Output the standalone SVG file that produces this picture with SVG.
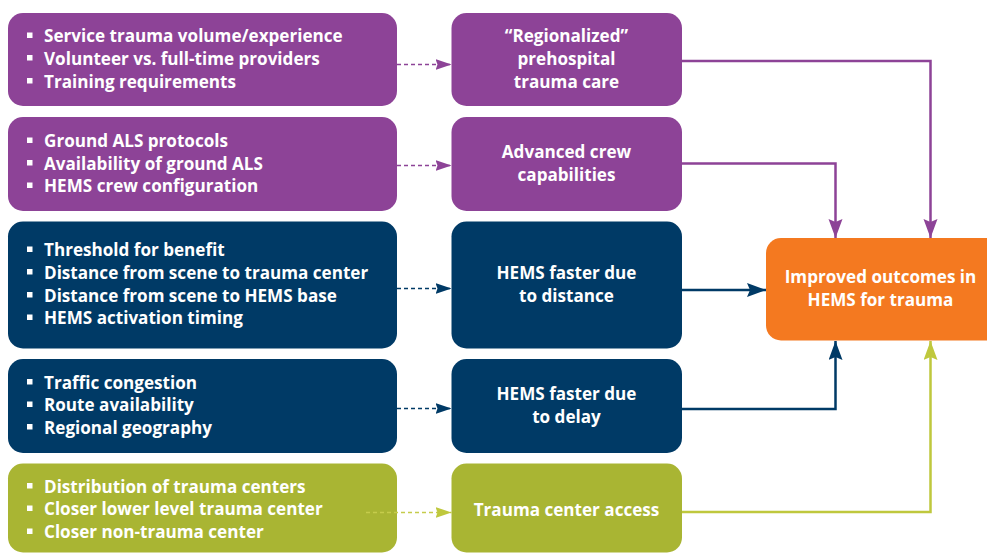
<svg xmlns="http://www.w3.org/2000/svg" width="987" height="554" viewBox="0 0 987 554">
  <style>
    .box { stroke: none; }
    .purple { fill: #8D4397; }
    .navy { fill: #003A66; }
    .green { fill: #A9B533; }
    .orange { fill: #F47920; }
    text { font-family: "Open Sans", Lato, "Liberation Sans", sans-serif; font-weight: 700; font-size: 17.1px; fill: #FFFFFF; }
    .mid { text-anchor: middle; }
    .bullet { fill: #FFFFFF; }
    .dash { fill: none; stroke-width: 1.6; stroke-dasharray: 4 3; }
    .solid { fill: none; stroke-width: 2.5; }
  </style>
  <defs>
    <marker id="dh-purple" markerUnits="userSpaceOnUse" markerWidth="16" markerHeight="12" refX="16" refY="5.5" orient="auto">
      <path d="M0,0 L16,5.5 L0,11 L2,5.5 z" fill="#8D4397"/>
    </marker>
    <marker id="dh-navy" markerUnits="userSpaceOnUse" markerWidth="16" markerHeight="12" refX="16" refY="5.5" orient="auto">
      <path d="M0,0 L16,5.5 L0,11 L2,5.5 z" fill="#003A66"/>
    </marker>
    <marker id="dh-green" markerUnits="userSpaceOnUse" markerWidth="16" markerHeight="12" refX="16" refY="5.5" orient="auto">
      <path d="M0,0 L16,5.5 L0,11 L2,5.5 z" fill="#BFC83D"/>
    </marker>
    <marker id="sh-purple" markerUnits="userSpaceOnUse" markerWidth="20" markerHeight="15" refX="19" refY="7" orient="auto">
      <path d="M0,0 L19,7 L0,14 L3,7 z" fill="#8D4397"/>
    </marker>
    <marker id="sh-navy" markerUnits="userSpaceOnUse" markerWidth="20" markerHeight="15" refX="19" refY="7" orient="auto">
      <path d="M0,0 L19,7 L0,14 L3,7 z" fill="#003A66"/>
    </marker>
    <marker id="sh-green" markerUnits="userSpaceOnUse" markerWidth="20" markerHeight="15" refX="19" refY="7" orient="auto">
      <path d="M0,0 L19,7 L0,14 L3,7 z" fill="#BFC83D"/>
    </marker>
  </defs>

  <!-- Row 1: regionalized care -->
  <g id="factors-regional">
    <rect class="box purple" x="8" y="13" width="389" height="93" rx="15"/>
    <rect class="bullet" x="27" y="32.5" width="5.5" height="5.5"/>
    <rect class="bullet" x="27" y="55" width="5.5" height="5.5"/>
    <rect class="bullet" x="27" y="78" width="5.5" height="5.5"/>
    <text x="44" y="42">Service trauma volume/experience</text>
    <text x="44" y="64.5">Volunteer vs. full-time providers</text>
    <text x="44" y="87.5">Training requirements</text>
  </g>
  <g id="regionalized-care">
    <rect class="box purple" x="451.5" y="13" width="230.5" height="93" rx="15"/>
    <text class="mid" x="566.5" y="41.5">“Regionalized”</text>
    <text class="mid" x="566.5" y="64.5">prehospital</text>
    <text class="mid" x="566.5" y="87.5">trauma care</text>
  </g>

  <!-- Row 2: crew capabilities -->
  <g id="factors-crew">
    <rect class="box purple" x="8" y="117" width="389" height="94" rx="15"/>
    <rect class="bullet" x="27" y="137.5" width="5.5" height="5.5"/>
    <rect class="bullet" x="27" y="160" width="5.5" height="5.5"/>
    <rect class="bullet" x="27" y="182.5" width="5.5" height="5.5"/>
    <text x="44" y="147">Ground ALS protocols</text>
    <text x="44" y="169.5">Availability of ground ALS</text>
    <text x="44" y="192">HEMS crew configuration</text>
  </g>
  <g id="crew-capabilities">
    <rect class="box purple" x="451.5" y="117" width="230.5" height="94" rx="15"/>
    <text class="mid" x="566.5" y="157.5">Advanced crew</text>
    <text class="mid" x="566.5" y="180.5">capabilities</text>
  </g>

  <!-- Row 3: distance -->
  <g id="factors-distance">
    <rect class="box navy" x="8" y="221.5" width="389" height="127" rx="15"/>
    <rect class="bullet" x="27" y="246.5" width="5.5" height="5.5"/>
    <rect class="bullet" x="27" y="269" width="5.5" height="5.5"/>
    <rect class="bullet" x="27" y="292" width="5.5" height="5.5"/>
    <rect class="bullet" x="27" y="314.5" width="5.5" height="5.5"/>
    <text x="44" y="256">Threshold for benefit</text>
    <text x="44" y="278.5">Distance from scene to trauma center</text>
    <text x="44" y="301.5">Distance from scene to HEMS base</text>
    <text x="44" y="324">HEMS activation timing</text>
  </g>
  <g id="faster-distance">
    <rect class="box navy" x="451.5" y="221.5" width="230.5" height="127" rx="15"/>
    <text class="mid" x="566.5" y="279">HEMS faster due</text>
    <text class="mid" x="566.5" y="302">to distance</text>
  </g>

  <!-- Row 4: delay -->
  <g id="factors-delay">
    <rect class="box navy" x="8" y="359" width="389" height="94" rx="15"/>
    <rect class="bullet" x="27" y="379" width="5.5" height="5.5"/>
    <rect class="bullet" x="27" y="401.5" width="5.5" height="5.5"/>
    <rect class="bullet" x="27" y="424" width="5.5" height="5.5"/>
    <text x="44" y="388.5">Traffic congestion</text>
    <text x="44" y="411">Route availability</text>
    <text x="44" y="433.5">Regional geography</text>
  </g>
  <g id="faster-delay">
    <rect class="box navy" x="451.5" y="359" width="230.5" height="94" rx="15"/>
    <text class="mid" x="566.5" y="400">HEMS faster due</text>
    <text class="mid" x="566.5" y="422.5">to delay</text>
  </g>

  <!-- Row 5: trauma center access -->
  <g id="factors-access">
    <rect class="box green" x="8" y="463.5" width="389" height="89" rx="15"/>
    <rect class="bullet" x="27" y="483" width="5.5" height="5.5"/>
    <rect class="bullet" x="27" y="505.5" width="5.5" height="5.5"/>
    <rect class="bullet" x="27" y="528.5" width="5.5" height="5.5"/>
    <text x="44" y="492.5">Distribution of trauma centers</text>
    <text x="44" y="515">Closer lower level trauma center</text>
    <text x="44" y="538">Closer non-trauma center</text>
  </g>
  <g id="trauma-access">
    <rect class="box green" x="451.5" y="463.5" width="230.5" height="89" rx="15"/>
    <text class="mid" x="566.5" y="515.5">Trauma center access</text>
  </g>

  <!-- Outcome -->
  <g id="outcomes">
    <rect class="box orange" x="766" y="238" width="240" height="102.5" rx="15"/>
    <text class="mid" x="880.5" y="283">Improved outcomes in</text>
    <text class="mid" x="880.5" y="306">HEMS for trauma</text>
  </g>

  <!-- Connectors -->
  <g id="connectors">
    <line class="dash" x1="397" y1="64.5" x2="451.5" y2="64.5" stroke="#8D4397" marker-end="url(#dh-purple)"/>
    <line class="dash" x1="397" y1="165.5" x2="451.5" y2="165.5" stroke="#8D4397" marker-end="url(#dh-purple)"/>
    <line class="dash" x1="397" y1="288.5" x2="451.5" y2="288.5" stroke="#003A66" marker-end="url(#dh-navy)"/>
    <line class="dash" x1="397" y1="408.5" x2="451.5" y2="408.5" stroke="#003A66" marker-end="url(#dh-navy)"/>
    <line class="dash" x1="366" y1="512.5" x2="451.5" y2="512.5" stroke="#C5CC4B" marker-end="url(#dh-green)"/>

    <polyline class="solid" points="682,61 930.5,61 930.5,238" stroke="#8D4397" marker-end="url(#sh-purple)"/>
    <polyline class="solid" points="682,163.5 835.5,163.5 835.5,238" stroke="#8D4397" marker-end="url(#sh-purple)"/>
    <line class="solid" x1="682" y1="290" x2="766" y2="290" stroke="#003A66" marker-end="url(#sh-navy)"/>
    <polyline class="solid" points="682,409 835.5,409 835.5,341" stroke="#003A66" marker-end="url(#sh-navy)"/>
    <polyline class="solid" points="682,512 930.5,512 930.5,341" stroke="#BFC83D" marker-end="url(#sh-green)"/>
  </g>
</svg>
